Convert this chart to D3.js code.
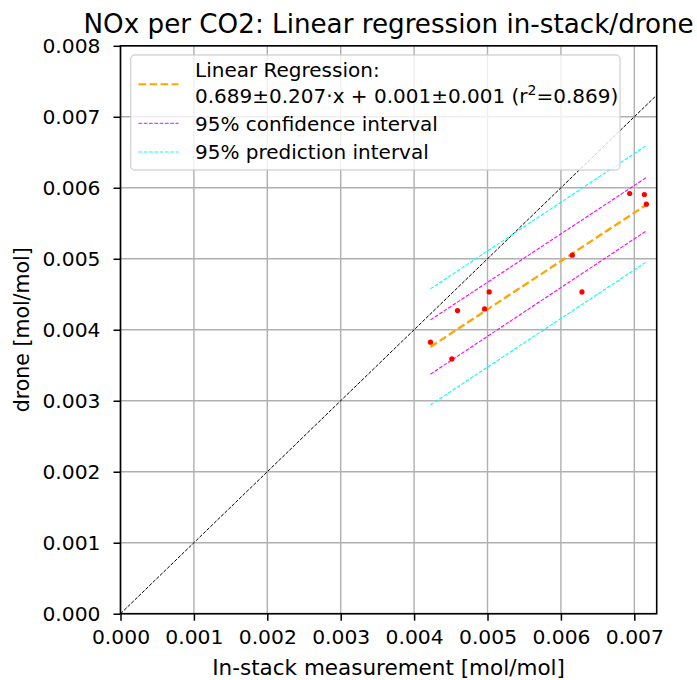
<!DOCTYPE html>
<html>
<head>
<meta charset="utf-8">
<script src="https://cdn.jsdelivr.net/npm/d3@7"></script>
<style>
  html, body { margin: 0; padding: 0; background: #fff; }
  svg { display: block; font-family: "DejaVu Sans", sans-serif; }
</style>
</head>
<body>
<svg id="chart" width="697" height="680"></svg>
<script>
// ---- data ----
const inStack = [0.004223, 0.004514, 0.004591, 0.004960, 0.005023, 0.006155, 0.006287, 0.006937, 0.007137, 0.007164];
const drone   = [0.003825, 0.003589, 0.004270, 0.004294, 0.004533, 0.005051, 0.004533, 0.005919, 0.005905, 0.005769];

const lineX      = [0.004223, 0.007164];
const regY       = [0.003758, 0.005760];
const confUpperY = [0.004139, 0.006144];
const confLowerY = [0.003374, 0.005393];
const predUpperY = [0.004576, 0.006595];
const predLowerY = [0.002941, 0.004956];
const identity   = [0, 0.008];

const xTicks = [0, 0.001, 0.002, 0.003, 0.004, 0.005, 0.006, 0.007];
const yTicks = [0, 0.001, 0.002, 0.003, 0.004, 0.005, 0.006, 0.007, 0.008];

const titleText = "NOx per CO2: Linear regression in-stack/drone";
const xLabel = "In-stack measurement [mol/mol]";
const yLabel = "drone [mol/mol]";
const legendLabels = ["Linear Regression:", "0.689\u00b10.207\u00b7x + 0.001\u00b10.001 (r", "2", "=0.869)",
                      "95% confidence interval", "95% prediction interval"];

// ---- layout ----
const L = 120.5, R = 656.7, T = 45.8, B = 613.7;
const svg = d3.select("#chart");
const x = d3.scaleLinear().domain([0, 0.007305]).range([L, R]);
const y = d3.scaleLinear().domain([0, 0.008]).range([B, T]);
const fmt = d3.format(".3f");

svg.append("defs").append("clipPath").attr("id", "clip")
  .append("rect").attr("x", L).attr("y", T).attr("width", R - L).attr("height", B - T);

// grid
const grid = svg.append("g");
grid.selectAll(".gx").data(xTicks).join("line")
  .attr("x1", d => x(d)).attr("x2", d => x(d)).attr("y1", T).attr("y2", B)
  .attr("stroke", "#b0b0b0").attr("stroke-width", 1.4);
grid.selectAll(".gy").data(yTicks).join("line")
  .attr("y1", d => y(d)).attr("y2", d => y(d)).attr("x1", L).attr("x2", R)
  .attr("stroke", "#b0b0b0").attr("stroke-width", 1.4);

const plot = svg.append("g").attr("clip-path", "url(#clip)");
const line = d3.line().x(d => x(d[0])).y(d => y(d[1]));

// identity line
plot.append("path").datum(identity.map(v => [v, v])).attr("d", line)
  .attr("fill", "none").attr("stroke", "#000").attr("stroke-width", 1)
  .attr("stroke-dasharray", "3.5,1.5");

function band(ys, color, w, dash) {
  plot.append("path").datum(lineX.map((v, i) => [v, ys[i]])).attr("d", line)
    .attr("fill", "none").attr("stroke", color).attr("stroke-width", w)
    .attr("stroke-dasharray", dash);
}
band(predUpperY, "#00ffff", 1.1, "3.7,1.6");
band(predLowerY, "#00ffff", 1.1, "3.7,1.6");
band(confUpperY, "#ff00ff", 1.1, "3.7,1.6");
band(confLowerY, "#ff00ff", 1.1, "3.7,1.6");
band(regY, "#ffa500", 2.3, "7.7,3.3");

// points
plot.selectAll("circle").data(inStack.map((v, i) => [v, drone[i]])).join("circle")
  .attr("cx", d => x(d[0])).attr("cy", d => y(d[1])).attr("r", 2.6).attr("fill", "#ff0000");

// axes
const xAxis = svg.append("g").attr("transform", `translate(0,${B})`)
  .call(d3.axisBottom(x).tickValues(xTicks).tickFormat(fmt).tickSize(7).tickPadding(9));
const yAxis = svg.append("g").attr("transform", `translate(${L},0)`)
  .call(d3.axisLeft(y).tickValues(yTicks).tickFormat(fmt).tickSize(7).tickPadding(13));
[xAxis, yAxis].forEach(a => {
  a.select(".domain").remove();
  a.selectAll(".tick line").attr("stroke", "#000").attr("stroke-width", 1.5);
  a.selectAll(".tick text").attr("font-size", 20.3).attr("fill", "#000")
    .attr("font-family", "DejaVu Sans, sans-serif");
});

// spines
svg.append("rect").attr("x", L).attr("y", T).attr("width", R - L).attr("height", B - T)
  .attr("fill", "none").attr("stroke", "#000").attr("stroke-width", 1.6);

// legend
const lg = svg.append("g");
lg.append("rect").attr("x", 130.7).attr("y", 55).attr("width", 489.3).attr("height", 115)
  .attr("rx", 4).attr("fill", "#fff").attr("fill-opacity", 0.8)
  .attr("stroke", "#cccccc").attr("stroke-opacity", 0.8).attr("stroke-width", 1.4);
const handles = [
  {y: 84.3, c: "#ffa500", w: 2.1, dash: "7.7,3.3"},
  {y: 123.3, c: "#ff00ff", w: 1, dash: "3.7,1.6"},
  {y: 152, c: "#00ffff", w: 1, dash: "3.7,1.6"}
];
handles.forEach(h => {
  lg.append("line").attr("x1", 138.5).attr("x2", 178.5).attr("y1", h.y).attr("y2", h.y)
    .attr("stroke", h.c).attr("stroke-width", h.w).attr("stroke-dasharray", h.dash);
});
const tx = 195;
lg.append("text").attr("x", tx).attr("y", 76.7).attr("font-size", 20).text(legendLabels[0]);
const t2 = lg.append("text").attr("x", tx).attr("y", 102.7).attr("font-size", 20);
t2.append("tspan").text(legendLabels[1]);
t2.append("tspan").attr("font-size", 14).attr("dy", -8).text(legendLabels[2]);
t2.append("tspan").attr("dy", 8).text(legendLabels[3]);
lg.append("text").attr("x", tx).attr("y", 130.7).attr("font-size", 20).text(legendLabels[4]);
lg.append("text").attr("x", tx).attr("y", 159.3).attr("font-size", 20).text(legendLabels[5]);

// title & labels
svg.append("text").attr("x", (L + R) / 2).attr("y", 32.5).attr("text-anchor", "middle")
  .attr("font-size", 26.2).text(titleText);
svg.append("text").attr("x", (L + R) / 2).attr("y", 675).attr("text-anchor", "middle")
  .attr("font-size", 21.5).text(xLabel);
svg.append("text").attr("transform", `translate(29,${(T + B) / 2}) rotate(-90)`)
  .attr("text-anchor", "middle").attr("font-size", 20.5).text(yLabel);
</script>
</body>
</html>
